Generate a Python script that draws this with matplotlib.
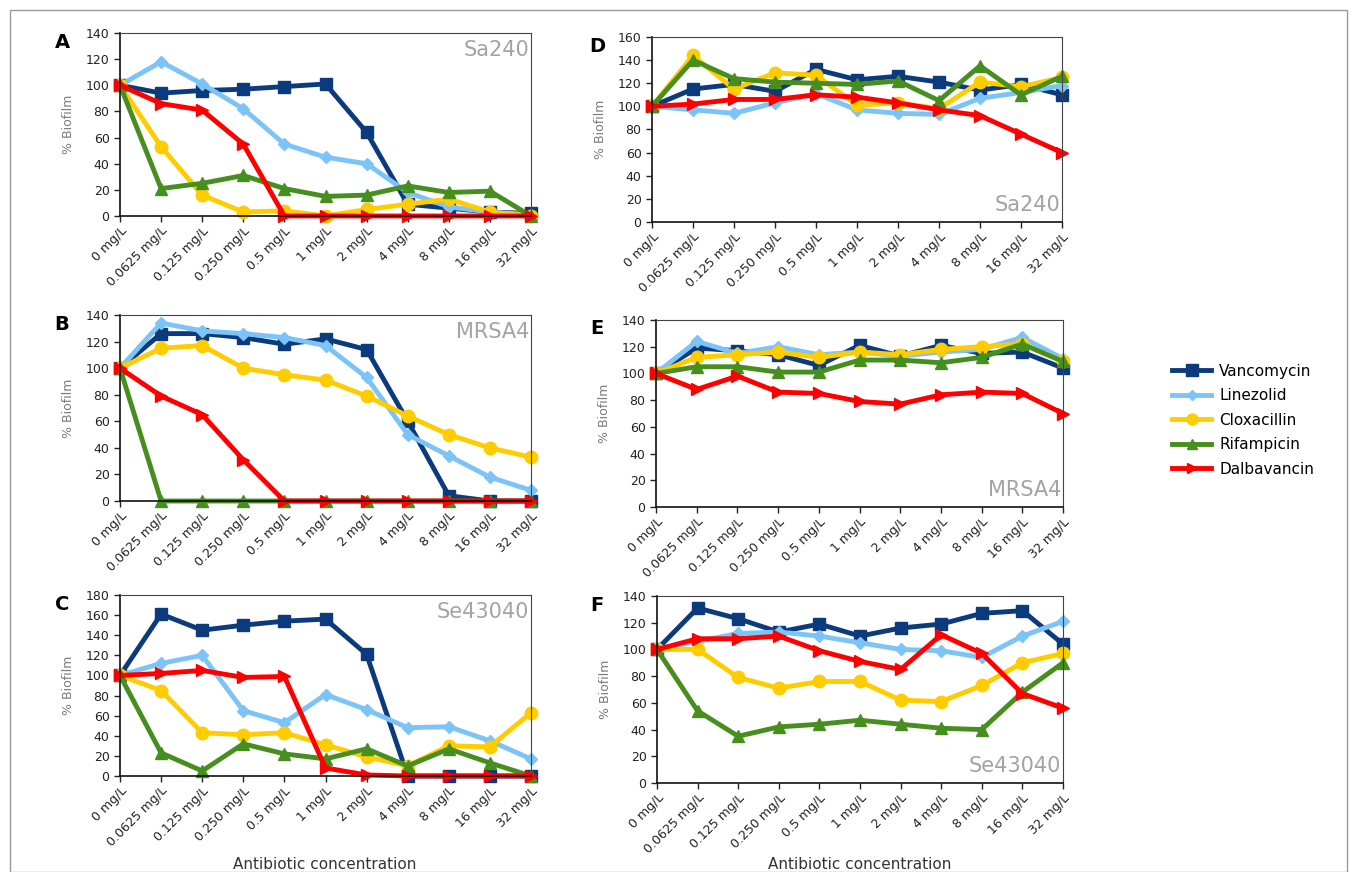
import matplotlib
matplotlib.use("Agg")
import matplotlib.pyplot as plt
from matplotlib.lines import Line2D
from matplotlib.patches import Rectangle
import numpy as np

# concentrations (x categories)
conc_labels = ["0 mg/L", "0.0625 mg/L", "0.125 mg/L", "0.250 mg/L", "0.5 mg/L",
               "1 mg/L", "2 mg/L", "4 mg/L", "8 mg/L", "16 mg/L", "32 mg/L"]
antibiotics = ["Vancomycin", "Linezolid", "Cloxacillin", "Rifampicin", "Dalbavancin"]

# A - Sa240
a_vanco = [100, 94, 96, 97, 99, 101, 64, 9, 6, 3, 2]
a_linez = [100, 118, 101, 82, 55, 45, 40, 18, 7, 3, 1]
a_cloxa = [100, 53, 16, 3, 4, 0, 5, 9, 13, 3, 0]
a_rifam = [100, 21, 25, 31, 21, 15, 16, 23, 18, 19, 0]
a_dalba = [100, 86, 81, 55, 0, 0, 0, 0, 0, 0, 0]

# B - MRSA4
b_vanco = [100, 126, 126, 123, 118, 122, 114, 60, 4, 0, 0]
b_linez = [100, 134, 128, 126, 123, 117, 93, 50, 34, 18, 8]
b_cloxa = [100, 115, 117, 100, 95, 91, 79, 64, 50, 40, 33]
b_rifam = [100, 0, 0, 0, 0, 0, 0, 0, 0, 0, 0]
b_dalba = [100, 79, 65, 31, 0, 0, 0, 0, 0, 0, 0]

# C - Se43040
c_vanco = [100, 161, 145, 150, 154, 156, 121, 0, 0, 0, 0]
c_linez = [100, 112, 120, 65, 53, 81, 66, 48, 49, 35, 17]
c_cloxa = [100, 85, 43, 41, 43, 31, 19, 10, 30, 29, 63]
c_rifam = [100, 23, 5, 32, 22, 17, 27, 10, 27, 13, 0]
c_dalba = [100, 102, 105, 98, 99, 8, 1, 0, 0, 0, 0]

# D - Sa240
d_vanco = [100, 115, 119, 113, 132, 123, 126, 121, 114, 119, 110]
d_linez = [100, 97, 94, 103, 111, 97, 94, 93, 107, 112, 118]
d_cloxa = [100, 144, 115, 129, 127, 101, 103, 98, 121, 117, 125]
d_rifam = [100, 140, 124, 121, 120, 119, 122, 105, 135, 110, 126]
d_dalba = [100, 102, 106, 106, 110, 108, 103, 97, 92, 76, 60]

# E - MRSA4
e_vanco = [100, 119, 117, 114, 106, 121, 113, 121, 115, 116, 104]
e_linez = [100, 124, 115, 120, 114, 116, 113, 116, 118, 127, 111]
e_cloxa = [100, 112, 114, 116, 112, 116, 114, 118, 120, 122, 109]
e_rifam = [100, 105, 105, 101, 101, 110, 110, 108, 112, 122, 109]
e_dalba = [100, 88, 98, 86, 85, 79, 77, 84, 86, 85, 70]

# F - Se43040
f_vanco = [100, 131, 123, 113, 119, 110, 116, 119, 127, 129, 104]
f_linez = [100, 106, 112, 113, 110, 105, 100, 99, 94, 110, 121]
f_cloxa = [100, 100, 79, 71, 76, 76, 62, 61, 73, 90, 97]
f_rifam = [100, 54, 35, 42, 44, 47, 44, 41, 40, 68, 90]
f_dalba = [100, 108, 108, 110, 99, 91, 85, 111, 97, 67, 56]

colors = ["#0b3b7c", "#7cc4f8", "#ffcc00", "#468f1f", "#ff0000"]
markers = ["s", "D", "o", "^", ">"]
msizes = [9, 6.5, 9, 8, 8]

W, H = 1357, 872
fig = plt.figure(figsize=(W / 100, H / 100), dpi=100)
fig.patches.append(Rectangle((10 / W, 0), (W - 20) / W, 1 - 10 / H, transform=fig.transFigure,
                             fill=False, edgecolor="#9a9a9a", linewidth=1.0))


def px_axes(left, top, right, bottom):
    return fig.add_axes([left / W, 1 - bottom / H, (right - left) / W, (bottom - top) / H])


panels = [
    ("A", (120, 33, 531, 216), [a_vanco, a_linez, a_cloxa, a_rifam, a_dalba], 140, 20, "Sa240", "top"),
    ("B", (120, 315, 531, 501), [b_vanco, b_linez, b_cloxa, b_rifam, b_dalba], 140, 20, "MRSA4", "top"),
    ("C", (120, 595, 531, 776), [c_vanco, c_linez, c_cloxa, c_rifam, c_dalba], 180, 20, "Se43040", "top"),
    ("D", (652, 37, 1062, 222), [d_vanco, d_linez, d_cloxa, d_rifam, d_dalba], 160, 20, "Sa240", "bottom"),
    ("E", (656, 320, 1063, 507), [e_vanco, e_linez, e_cloxa, e_rifam, e_dalba], 140, 20, "MRSA4", "bottom"),
    ("F", (657, 596, 1063, 783), [f_vanco, f_linez, f_cloxa, f_rifam, f_dalba], 140, 20, "Se43040", "bottom"),
]

x = np.arange(len(conc_labels))
for letter, box, series, ymax, ystep, strain, pos in panels:
    ax = px_axes(*box)
    for vals, c, m, ms in zip(series, colors, markers, msizes):
        ax.plot(x, vals, color=c, marker=m, markersize=ms, linewidth=3.5, clip_on=False)
    ax.set_xlim(0, 10)
    ax.set_ylim(0, ymax)
    ax.set_yticks(np.arange(0, ymax + 1, ystep))
    ax.set_xticks(x)
    ax.set_xticklabels(conc_labels, rotation=45, ha="right", rotation_mode="anchor")
    ax.tick_params(axis="both", labelsize=9, colors="#222222", direction="out", length=4, width=1)
    ax.tick_params(axis="x", pad=2)
    for side in ["top", "right"]:
        ax.spines[side].set_color("#444444")
        ax.spines[side].set_linewidth(0.8)
    for side in ["left", "bottom"]:
        ax.spines[side].set_color("#111111")
        ax.spines[side].set_linewidth(1.2)
    ax.set_ylabel("% Biofilm", color="#7a7a7a", fontsize=9, labelpad=8)
    if pos == "top":
        ax.text(0.995, 0.96, strain, transform=ax.transAxes, ha="right", va="top",
                fontsize=15, color="#a3a3a3")
    else:
        ax.text(0.995, 0.04, strain, transform=ax.transAxes, ha="right", va="bottom",
                fontsize=15, color="#a3a3a3")
    lx = 62 if box[0] < 300 else 597
    fig.text(lx / W, 1 - (box[1] + 9) / H, letter, fontsize=14, fontweight="bold",
             ha="center", va="center")

fig.text(325 / W, 1 - 857 / H, "Antibiotic concentration", ha="center", va="top",
         fontsize=11, color="#333333")
fig.text(860 / W, 1 - 857 / H, "Antibiotic concentration", ha="center", va="top",
         fontsize=11, color="#333333")

handles = [Line2D([0], [0], color=c, marker=m, markersize=ms - 1, linewidth=3.5)
           for c, m, ms in zip(colors, markers, msizes)]
fig.legend(handles, antibiotics, loc="upper left", bbox_to_anchor=(1158 / W, 1 - 350 / H),
           frameon=False, fontsize=11, handlelength=2.6, labelspacing=0.62, handletextpad=0.5)

fig.savefig("out.png", dpi=100)
